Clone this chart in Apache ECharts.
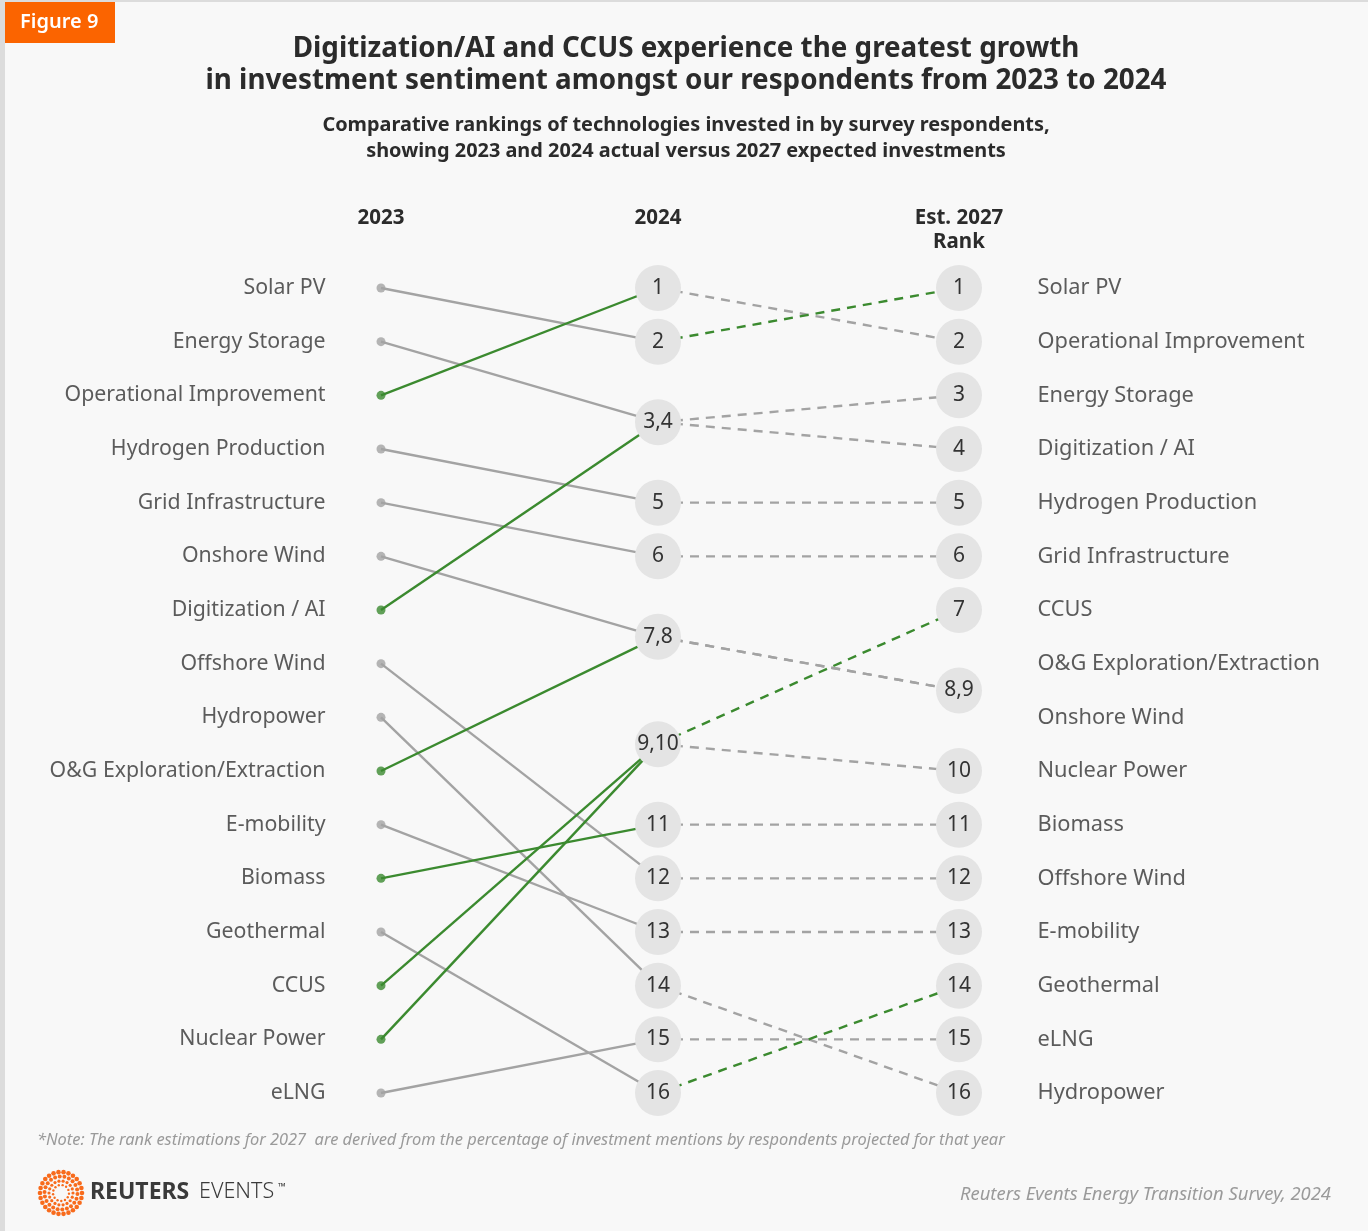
<!DOCTYPE html>
<html>
<head>
<meta charset="utf-8">
<script src="https://cdn.jsdelivr.net/npm/echarts@6/dist/echarts.min.js"></script>
<style>
  html, body { margin: 0; padding: 0; background: #dcdcdc; }
  #chart { position: absolute; left: 0; top: 0; width: 1368px; height: 1231px; }
</style>
</head>
<body>
<div id="chart"></div>
<script>
// Technologies in their 2023 rank order (rank = position + 1)
const techs2023 = [
  'Solar PV', 'Energy Storage', 'Operational Improvement', 'Hydrogen Production',
  'Grid Infrastructure', 'Onshore Wind', 'Digitization / AI', 'Offshore Wind',
  'Hydropower', 'O&G Exploration/Extraction', 'E-mobility', 'Biomass',
  'Geothermal', 'CCUS', 'Nuclear Power', 'eLNG'
];
// 2024 rank of each technology above (tied ranks written as "a,b")
const rank2024 = ['2', '3,4', '1', '5', '6', '7,8', '3,4', '12', '14', '7,8', '13', '11', '16', '9,10', '9,10', '15'];
// Estimated 2027 rank of each technology above
const rank2027 = ['1', '3', '2', '5', '6', '8,9', '4', '12', '16', '8,9', '13', '11', '14', '7', '10', '15'];
// Technologies in their estimated 2027 rank order
const techs2027 = [
  'Solar PV', 'Operational Improvement', 'Energy Storage', 'Digitization / AI',
  'Hydrogen Production', 'Grid Infrastructure', 'CCUS', 'O&G Exploration/Extraction',
  'Onshore Wind', 'Nuclear Power', 'Biomass', 'Offshore Wind', 'E-mobility',
  'Geothermal', 'eLNG', 'Hydropower'
];
// Movers shown in green
const rising2024 = ['Operational Improvement', 'Digitization / AI', 'O&G Exploration/Extraction', 'Biomass', 'CCUS', 'Nuclear Power'];
const rising2027 = ['Solar PV', 'CCUS', 'Geothermal'];
const columnHeaders = ['2023', '2024', 'Est. 2027\nRank'];

const GREEN = '#3b8a2f';
const GREY = '#a3a3a3';
const TEXT = '#333333';
const FONT = '"Noto Sans", "Open Sans", sans-serif';
const COL_X = [0, 277 / 578, 1];

// "9,10" -> 9.5 ; "7" -> 7
const pos = s => { const p = s.split(',').map(Number); return p.reduce((a, b) => a + b, 0) / p.length; };
const uniq = arr => [...new Set(arr)];

const series = [];

// Solid links 2023 -> 2024
techs2023.forEach((t, i) => {
  const up = rising2024.includes(t);
  series.push({
    type: 'line', symbol: 'none', silent: true, z: up ? 3 : 2,
    lineStyle: { color: up ? GREEN : GREY, width: 2.4 },
    data: [[COL_X[0], i + 1], [COL_X[1], pos(rank2024[i])]]
  });
});

// Dashed links 2024 -> 2027
techs2023.forEach((t, i) => {
  const up = rising2027.includes(t);
  series.push({
    type: 'line', symbol: 'none', silent: true, z: up ? 3 : 2,
    lineStyle: { color: up ? GREEN : GREY, width: 2.4, type: [9, 7] },
    data: [[COL_X[1], pos(rank2024[i])], [COL_X[2], pos(rank2027[i])]]
  });
});

// 2023 dots with names on the left
series.push({
  type: 'scatter', symbolSize: 9, z: 5, silent: true,
  data: techs2023.map((t, i) => ({
    value: [COL_X[0], i + 1],
    itemStyle: { color: rising2024.includes(t) ? GREEN : GREY },
    label: { show: true, formatter: t }
  })),
  label: { position: 'left', distance: 51, fontFamily: FONT, fontSize: 21.3, color: TEXT }
});

// Rank bubbles for 2024 and 2027
[[rank2024, COL_X[1]], [rank2027, COL_X[2]]].forEach(([ranks, x]) => {
  series.push({
    type: 'scatter', symbolSize: 46, z: 6, silent: true,
    itemStyle: { color: '#e4e4e4', opacity: 1 },
    data: uniq(ranks).map(r => ({ value: [x, pos(r)], name: r })),
    label: {
      show: true, position: 'inside', formatter: p => p.name,
      fontFamily: FONT, fontSize: 21, color: TEXT
    }
  });
});

// Names on the right in 2027 order
series.push({
  type: 'scatter', symbolSize: 1, z: 5, silent: true,
  itemStyle: { color: 'rgba(0,0,0,0)' },
  data: techs2027.map((t, i) => ({ value: [COL_X[2], i + 1], name: t })),
  label: {
    show: true, position: 'right', distance: 78, formatter: p => p.name,
    fontFamily: FONT, fontSize: 21.8, color: TEXT
  }
});

// Decorative dotted ring for the footer logo
const logoDots = [];
const rings = [[21, 26, 2.3], [16.5, 22, 2.0], [12, 18, 1.6], [8, 13, 1.2]];
rings.forEach(([r, n, s], k) => {
  for (let j = 0; j < n; j++) {
    const a = (j / n) * Math.PI * 2 + k * 0.35;
    logoDots.push({
      type: 'circle', silent: true,
      shape: { cx: 61 + r * Math.cos(a), cy: 1193 + r * Math.sin(a), r: s },
      style: { fill: '#f86b1c' }
    });
  }
});

const headerX = [381, 658, 959];
const graphic = [
  { type: 'rect', silent: true, shape: { x: 5, y: 2, width: 1363, height: 1229 }, style: { fill: '#f8f8f8' } },
  { type: 'rect', silent: true, shape: { x: 5, y: 2, width: 110, height: 41 }, style: { fill: '#fb6400' } },
  { type: 'text', silent: true, left: 20, top: 12, style: { text: 'Figure 9', fill: '#ffffff', font: `600 20px ${FONT}` } },
  { type: 'text', silent: true, x: 686, y: 33, style: {
      text: 'Digitization/AI and CCUS experience the greatest growth\nin investment sentiment amongst our respondents from 2023 to 2024',
      fill: '#2b2b2b', font: `bold 27.8px ${FONT}`, align: 'center', lineHeight: 32 } },
  { type: 'text', silent: true, x: 686, y: 112, style: {
      text: 'Comparative rankings of technologies invested in by survey respondents,\nshowing 2023 and 2024 actual versus 2027 expected investments',
      fill: '#2b2b2b', font: `bold 19.9px ${FONT}`, align: 'center', lineHeight: 26 } }
].concat(columnHeaders.map((h, i) => ({
  type: 'text', silent: true, x: headerX[i], y: 206,
  style: { text: h, fill: '#2b2b2b', font: `bold 20.5px ${FONT}`, align: 'center', lineHeight: 24 }
}))).concat([
  { type: 'text', silent: true, x: 37, y: 1132, style: {
      text: '*Note: The rank estimations for 2027  are derived from the percentage of investment mentions by respondents projected for that year',
      fill: '#9a9a9a', font: `italic 16.4px ${FONT}` } },
  { type: 'text', silent: true, x: 90, y: 1181, style: { text: 'REUTERS', fill: '#3a3a3a', font: `bold 23px ${FONT}` } },
  { type: 'text', silent: true, x: 199, y: 1181, style: { text: 'EVENTS', fill: '#3a3a3a', font: `300 21.5px ${FONT}` } },
  { type: 'text', silent: true, x: 278, y: 1182, style: { text: '™', fill: '#3a3a3a', font: `10px ${FONT}` } },
  { type: 'text', silent: true, x: 1331, y: 1186, style: {
      text: 'Reuters Events Energy Transition Survey, 2024', fill: '#9a9a9a', font: `italic 18.4px ${FONT}`, align: 'right' } }
]).concat(logoDots);

const chart = echarts.init(document.getElementById('chart'), null, { renderer: 'canvas' });
chart.setOption({
  backgroundColor: '#dcdcdc',
  animation: false,
  graphic: graphic,
  grid: { left: 381, top: 288, width: 578, height: 805 },
  xAxis: { type: 'value', min: 0, max: 1, show: false },
  yAxis: { type: 'value', min: 1, max: 16, inverse: true, show: false },
  series: series
});
</script>
</body>
</html>
